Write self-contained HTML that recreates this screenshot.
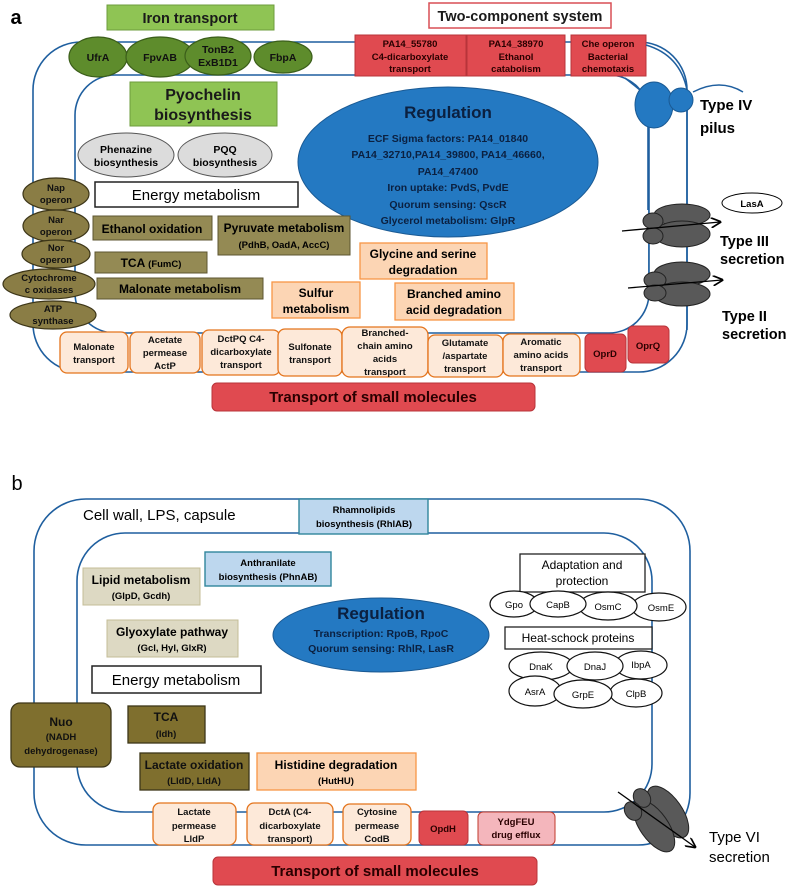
<!DOCTYPE html>
<html><head><meta charset="utf-8"><style>
html,body{margin:0;padding:0;background:#fff}
svg{display:block}
text{font-family:"Liberation Sans",sans-serif;font-weight:bold;text-anchor:middle}
.s10{font-size:9.5px}.s11{font-size:10.5px}.s12{font-size:12px}.s13{font-size:13px}.s14{font-size:14.5px}
</style></head><body>
<svg width="787" height="887" viewBox="0 0 787 887" xmlns="http://www.w3.org/2000/svg">
<defs>
<marker id="ar" markerWidth="8" markerHeight="8" refX="7" refY="4" orient="auto"><path d="M0,0 L8,4 L0,8" fill="none" stroke="#000" stroke-width="1.3"/></marker>
</defs>
<!-- ===== PANEL A ===== -->
<text x="16" y="24" style="font-size:20px">a</text>
<rect x="33" y="42" width="654" height="330" rx="48" fill="none" stroke="#1f5f9f" stroke-width="1.6"/>
<rect x="75" y="75" width="574" height="258" rx="40" fill="none" stroke="#1f5f9f" stroke-width="1.6"/>

<rect x="107" y="5" width="167" height="25" fill="#8fc454" stroke="#6e9c3c"/>
<text x="190" y="23" class="s14" fill="#1a1a1a">Iron transport</text>
<rect x="429" y="3" width="182" height="25" fill="#fff" stroke="#d94f55" stroke-width="1.5"/>
<text x="520" y="21" class="s14" fill="#1a1a1a">Two-component system</text>

<g fill="#5e8c2c" stroke="#3b5e1a" stroke-width="1.2">
<ellipse cx="98" cy="57" rx="29" ry="20"/>
<ellipse cx="160" cy="57" rx="34" ry="20"/>
<ellipse cx="218" cy="56" rx="33" ry="19"/>
<ellipse cx="283" cy="57" rx="29" ry="16"/>
</g>
<text x="98" y="61" class="s11" fill="#111">UfrA</text>
<text x="160" y="61" class="s11" fill="#111">FpvAB</text>
<text x="218" y="53" class="s11" fill="#111">TonB2</text>
<text x="218" y="66" class="s11" fill="#111">ExB1D1</text>
<text x="283" y="61" class="s11" fill="#111">FbpA</text>

<g fill="#e04a50" stroke="#b8343a">
<rect x="355" y="35" width="111" height="41"/>
<rect x="467" y="35" width="98" height="41"/>
<rect x="571" y="35" width="75" height="41"/>
</g>
<g fill="#2a0000">
<text x="410" y="47" class="s10">PA14_55780</text>
<text x="410" y="60" class="s10">C4-dicarboxylate</text>
<text x="410" y="72" class="s10">transport</text>
<text x="516" y="47" class="s10">PA14_38970</text>
<text x="516" y="60" class="s10">Ethanol</text>
<text x="516" y="72" class="s10">catabolism</text>
<text x="608" y="47" class="s10">Che operon</text>
<text x="608" y="60" class="s10">Bacterial</text>
<text x="608" y="72" class="s10">chemotaxis</text>
</g>

<path d="M646,45 Q680,55 687,90" fill="none" stroke="#1f5f9f" stroke-width="1.5"/>
<path d="M693,92 Q720,78 743,92" fill="none" stroke="#1f5f9f" stroke-width="1.5"/>
<path d="M625,78 L640,90" fill="none" stroke="#1f5f9f" stroke-width="1.5"/>
<line x1="648" y1="125" x2="648" y2="210" stroke="#1f5f9f" stroke-width="1.6"/>
<line x1="687" y1="110" x2="687" y2="210" stroke="#1f5f9f" stroke-width="1.6"/>
<rect x="649" y="210" width="37" height="120" fill="#fff"/>
<ellipse cx="654" cy="105" rx="19" ry="23" fill="#2479c2" stroke="#1a5a94"/>
<ellipse cx="681" cy="100" rx="12" ry="12" fill="#2479c2" stroke="#1a5a94"/>
<text x="700" y="110" style="font-size:15px;text-anchor:start">Type IV</text>
<text x="700" y="133" style="font-size:15px;text-anchor:start">pilus</text>

<line x1="649" y1="210" x2="649" y2="300" stroke="#1f5f9f" stroke-width="1.6"/>
<line x1="687" y1="210" x2="687" y2="330" stroke="#1f5f9f" stroke-width="1.6"/>
<g fill="#595959" stroke="#222" stroke-width="1">
<ellipse cx="682" cy="215" rx="28" ry="11"/>
<ellipse cx="682" cy="234" rx="28" ry="13"/>
<ellipse cx="653" cy="221" rx="10" ry="8"/>
<ellipse cx="653" cy="236" rx="10" ry="8"/>
<ellipse cx="682" cy="274" rx="28" ry="12"/>
<ellipse cx="682" cy="294" rx="28" ry="12"/>
<ellipse cx="655" cy="280" rx="11" ry="8"/>
<ellipse cx="655" cy="293" rx="11" ry="8"/>
</g>
<line x1="622" y1="231" x2="720" y2="222" stroke="#000" stroke-width="1.3" marker-end="url(#ar)"/>
<line x1="628" y1="288" x2="722" y2="280" stroke="#000" stroke-width="1.3" marker-end="url(#ar)"/>
<ellipse cx="752" cy="203" rx="30" ry="10" fill="#fff" stroke="#000"/>
<text x="752" y="207" class="s10">LasA</text>
<text x="720" y="246" style="font-size:14.5px;text-anchor:start">Type III</text>
<text x="720" y="264" style="font-size:14.5px;text-anchor:start">secretion</text>
<text x="722" y="321" style="font-size:14.5px;text-anchor:start">Type II</text>
<text x="722" y="339" style="font-size:14.5px;text-anchor:start">secretion</text>

<rect x="130" y="82" width="147" height="44" fill="#8fc454" stroke="#6e9c3c"/>
<text x="203" y="100" style="font-size:16px" fill="#1a1a1a">Pyochelin</text>
<text x="203" y="120" style="font-size:16px" fill="#1a1a1a">biosynthesis</text>

<g fill="#dcdcdc" stroke="#555">
<ellipse cx="126" cy="155" rx="48" ry="22"/>
<ellipse cx="225" cy="155" rx="47" ry="22"/>
</g>
<text x="126" y="153" class="s11">Phenazine</text>
<text x="126" y="166" class="s11">biosynthesis</text>
<text x="225" y="153" class="s11">PQQ</text>
<text x="225" y="166" class="s11">biosynthesis</text>

<ellipse cx="448" cy="162" rx="150" ry="75" fill="#2479c2" stroke="#1a5a94"/>
<g fill="#0b2040">
<text x="448" y="118" style="font-size:17px">Regulation</text>
<text x="448" y="142" class="s11">ECF Sigma factors: PA14_01840</text>
<text x="448" y="158" class="s11">PA14_32710,PA14_39800, PA14_46660,</text>
<text x="448" y="175" class="s11">PA14_47400</text>
<text x="448" y="191" class="s11">Iron uptake: PvdS, PvdE</text>
<text x="448" y="208" class="s11">Quorum sensing: QscR</text>
<text x="448" y="224" class="s11">Glycerol metabolism: GlpR</text>
</g>

<rect x="95" y="182" width="203" height="25" fill="#fff" stroke="#222" stroke-width="1.5"/>
<text x="196" y="200" style="font-size:15px;font-weight:normal">Energy metabolism</text>

<g fill="#948a54" stroke="#5c5530">
<rect x="93" y="216" width="119" height="24"/>
<rect x="218" y="216" width="132" height="39"/>
<rect x="95" y="252" width="112" height="21"/>
<rect x="97" y="278" width="166" height="21"/>
</g>
<text x="152" y="233" class="s12">Ethanol oxidation</text>
<text x="284" y="232" class="s12">Pyruvate metabolism</text>
<text x="284" y="248" class="s10">(PdhB, OadA, AccC)</text>
<text x="151" y="267" class="s12">TCA <tspan class="s10">(FumC)</tspan></text>
<text x="180" y="293" class="s12">Malonate metabolism</text>

<g fill="#8a7d45" stroke="#3d3618" stroke-width="1.2">
<ellipse cx="56" cy="194" rx="33" ry="16"/>
<ellipse cx="56" cy="226" rx="33" ry="16"/>
<ellipse cx="56" cy="254" rx="34" ry="14"/>
<ellipse cx="49" cy="284" rx="46" ry="15"/>
<ellipse cx="53" cy="315" rx="43" ry="14"/>
</g>
<g fill="#111">
<text x="56" y="191" class="s10">Nap</text><text x="56" y="203" class="s10">operon</text>
<text x="56" y="223" class="s10">Nar</text><text x="56" y="235" class="s10">operon</text>
<text x="56" y="251" class="s10">Nor</text><text x="56" y="263" class="s10">operon</text>
<text x="49" y="281" class="s10">Cytochrome</text><text x="49" y="293" class="s10">c oxidases</text>
<text x="53" y="312" class="s10">ATP</text><text x="53" y="324" class="s10">synthase</text>
</g>

<g fill="#fcd5b4" stroke="#f79646" stroke-width="1.3">
<rect x="360" y="243" width="127" height="36"/>
<rect x="272" y="282" width="88" height="36"/>
<rect x="395" y="283" width="119" height="37"/>
</g>
<text x="423" y="258" class="s12">Glycine and serine</text>
<text x="423" y="274" class="s12">degradation</text>
<text x="316" y="297" class="s12">Sulfur</text>
<text x="316" y="313" class="s12">metabolism</text>
<text x="454" y="298" class="s12">Branched amino</text>
<text x="454" y="314" class="s12">acid degradation</text>

<g fill="#fde9d9" stroke="#e4741c" stroke-width="1.3">
<rect x="60" y="332" width="68" height="41" rx="7"/>
<rect x="130" y="332" width="70" height="41" rx="7"/>
<rect x="202" y="330" width="78" height="45" rx="7"/>
<rect x="278" y="329" width="64" height="47" rx="7"/>
<rect x="342" y="327" width="86" height="50" rx="8"/>
<rect x="428" y="335" width="75" height="42" rx="7"/>
<rect x="503" y="334" width="77" height="42" rx="7"/>
</g>
<g fill="#111">
<text x="94" y="350" class="s10">Malonate</text><text x="94" y="363" class="s10">transport</text>
<text x="165" y="343" class="s10">Acetate</text><text x="165" y="356" class="s10">permease</text><text x="165" y="369" class="s10">ActP</text>
<text x="241" y="342" class="s10">DctPQ C4-</text><text x="241" y="355" class="s10">dicarboxylate</text><text x="241" y="368" class="s10">transport</text>
<text x="310" y="350" class="s10">Sulfonate</text><text x="310" y="363" class="s10">transport</text>
<text x="385" y="336" class="s10">Branched-</text><text x="385" y="349" class="s10">chain amino</text><text x="385" y="362" class="s10">acids</text><text x="385" y="375" class="s10">transport</text>
<text x="465" y="346" class="s10">Glutamate</text><text x="465" y="359" class="s10">/aspartate</text><text x="465" y="372" class="s10">transport</text>
<text x="541" y="345" class="s10">Aromatic</text><text x="541" y="358" class="s10">amino acids</text><text x="541" y="371" class="s10">transport</text>
</g>
<g fill="#e04a50" stroke="#b8343a">
<rect x="585" y="334" width="41" height="38" rx="5"/>
<rect x="628" y="326" width="41" height="37" rx="5"/>
</g>
<text x="605" y="357" class="s10" fill="#2a0000">OprD</text>
<text x="648" y="349" class="s10" fill="#2a0000">OprQ</text>

<rect x="212" y="383" width="323" height="28" rx="5" fill="#e04a50" stroke="#b8343a"/>
<text x="373" y="402" style="font-size:15px" fill="#2a0000">Transport of small molecules</text>

<!-- ===== PANEL B ===== -->
<text x="17" y="490" style="font-size:20px;font-weight:normal">b</text>
<rect x="34" y="499" width="656" height="346" rx="52" fill="none" stroke="#1f5f9f" stroke-width="1.6"/>
<rect x="77" y="533" width="575" height="279" rx="48" fill="none" stroke="#1f5f9f" stroke-width="1.6"/>
<text x="83" y="520" style="font-size:15px;font-weight:normal;text-anchor:start">Cell wall, LPS, capsule</text>

<g fill="#bdd7ee" stroke="#31859c" stroke-width="1.4">
<rect x="299" y="499" width="129" height="35"/>
<rect x="205" y="552" width="126" height="34"/>
</g>
<text x="364" y="513" class="s10">Rhamnolipids</text>
<text x="364" y="527" class="s10">biosynthesis (RhlAB)</text>
<text x="268" y="566" class="s10">Anthranilate</text>
<text x="268" y="580" class="s10">biosynthesis (PhnAB)</text>

<g fill="#ddd9c3" stroke="#c4bd97">
<rect x="83" y="568" width="117" height="37"/>
<rect x="107" y="620" width="131" height="37"/>
</g>
<text x="141" y="584" class="s12">Lipid metabolism</text>
<text x="141" y="599" class="s10">(GlpD, Gcdh)</text>
<text x="172" y="636" class="s12">Glyoxylate pathway</text>
<text x="172" y="651" class="s10">(Gcl, Hyl, GlxR)</text>

<rect x="92" y="666" width="169" height="27" fill="#fff" stroke="#222" stroke-width="1.5"/>
<text x="176" y="685" style="font-size:15px;font-weight:normal">Energy metabolism</text>

<ellipse cx="381" cy="635" rx="108" ry="37" fill="#2479c2" stroke="#1a5a94"/>
<g fill="#0b2040">
<text x="381" y="619" style="font-size:17px">Regulation</text>
<text x="381" y="637" class="s11">Transcription: RpoB, RpoC</text>
<text x="381" y="652" class="s11">Quorum sensing: RhlR, LasR</text>
</g>

<rect x="520" y="554" width="125" height="38" fill="#fff" stroke="#222" stroke-width="1.3"/>
<text x="582" y="569" class="s12" style="font-weight:normal">Adaptation and</text>
<text x="582" y="585" class="s12" style="font-weight:normal">protection</text>
<g fill="#fff" stroke="#111" stroke-width="1.2">
<ellipse cx="659" cy="607" rx="27" ry="14"/>
<ellipse cx="608" cy="606" rx="29" ry="14"/>
<ellipse cx="514" cy="604" rx="24" ry="13"/>
<ellipse cx="558" cy="604" rx="28" ry="13"/>
</g>
<text x="514" y="608" class="s10" style="font-weight:normal">Gpo</text>
<text x="558" y="608" class="s10" style="font-weight:normal">CapB</text>
<text x="608" y="610" class="s10" style="font-weight:normal">OsmC</text>
<text x="661" y="611" class="s10" style="font-weight:normal">OsmE</text>

<rect x="505" y="627" width="147" height="22" fill="#fff" stroke="#222" stroke-width="1.3"/>
<text x="578" y="642" class="s12" style="font-weight:normal">Heat-schock proteins</text>
<g fill="#fff" stroke="#111" stroke-width="1.2">
<ellipse cx="641" cy="665" rx="26" ry="14"/>
<ellipse cx="541" cy="666" rx="32" ry="14"/>
<ellipse cx="595" cy="666" rx="28" ry="14"/>
<ellipse cx="636" cy="693" rx="26" ry="14"/>
<ellipse cx="535" cy="691" rx="26" ry="15"/>
<ellipse cx="583" cy="694" rx="29" ry="14"/>
</g>
<text x="541" y="670" class="s10" style="font-weight:normal">DnaK</text>
<text x="595" y="670" class="s10" style="font-weight:normal">DnaJ</text>
<text x="641" y="668" class="s10" style="font-weight:normal">IbpA</text>
<text x="535" y="695" class="s10" style="font-weight:normal">AsrA</text>
<text x="583" y="698" class="s10" style="font-weight:normal">GrpE</text>
<text x="636" y="697" class="s10" style="font-weight:normal">ClpB</text>

<g fill="#7f6f2e" stroke="#3d3618" stroke-width="1.3">
<rect x="11" y="703" width="100" height="64" rx="9"/>
<rect x="128" y="706" width="77" height="37"/>
<rect x="140" y="753" width="109" height="37"/>
</g>
<g fill="#111">
<text x="61" y="726" class="s12">Nuo</text>
<text x="61" y="740" class="s10">(NADH</text>
<text x="61" y="754" class="s10">dehydrogenase)</text>
<text x="166" y="721" class="s12">TCA</text>
<text x="166" y="737" class="s10">(Idh)</text>
<text x="194" y="769" class="s12">Lactate oxidation</text>
<text x="194" y="784" class="s10">(LldD, LldA)</text>
</g>
<rect x="257" y="753" width="159" height="37" fill="#fcd5b4" stroke="#f79646" stroke-width="1.3"/>
<text x="336" y="769" class="s12">Histidine degradation</text>
<text x="336" y="784" class="s10">(HutHU)</text>

<g fill="#fde9d9" stroke="#e4741c" stroke-width="1.3">
<rect x="153" y="803" width="83" height="42" rx="7"/>
<rect x="247" y="803" width="86" height="42" rx="7"/>
<rect x="343" y="804" width="68" height="41" rx="7"/>
</g>
<g fill="#111">
<text x="194" y="815" class="s10">Lactate</text><text x="194" y="829" class="s10">permease</text><text x="194" y="842" class="s10">LldP</text>
<text x="290" y="815" class="s10">DctA  (C4-</text><text x="290" y="829" class="s10">dicarboxylate</text><text x="290" y="842" class="s10">transport)</text>
<text x="377" y="815" class="s10">Cytosine</text><text x="377" y="829" class="s10">permease</text><text x="377" y="842" class="s10">CodB</text>
</g>
<rect x="419" y="811" width="49" height="34" rx="5" fill="#e04a50" stroke="#b8343a"/>
<text x="443" y="832" class="s10" fill="#2a0000">OpdH</text>
<rect x="478" y="812" width="77" height="33" rx="5" fill="#f4b6bc" stroke="#c0392b"/>
<text x="516" y="825" class="s10" fill="#2a0000">YdgFEU</text>
<text x="516" y="838" class="s10" fill="#2a0000">drug efflux</text>

<g fill="#595959" stroke="#222" stroke-width="1">
<ellipse cx="668" cy="812" rx="30" ry="14" transform="rotate(55 668 812)"/>
<ellipse cx="654" cy="826" rx="30" ry="14" transform="rotate(55 654 826)"/>
<ellipse cx="642" cy="798" rx="10" ry="8" transform="rotate(55 642 798)"/>
<ellipse cx="633" cy="811" rx="10" ry="8" transform="rotate(55 633 811)"/>
</g>
<line x1="618" y1="792" x2="695" y2="847" stroke="#000" stroke-width="1.3" marker-end="url(#ar)"/>
<rect x="213" y="857" width="324" height="28" rx="5" fill="#e04a50" stroke="#b8343a"/>
<text x="375" y="876" style="font-size:15px" fill="#2a0000">Transport of small molecules</text>
<text x="709" y="842" style="font-size:15px;font-weight:normal;text-anchor:start">Type VI</text>
<text x="709" y="862" style="font-size:15px;font-weight:normal;text-anchor:start">secretion</text>
</svg>
</body></html>
